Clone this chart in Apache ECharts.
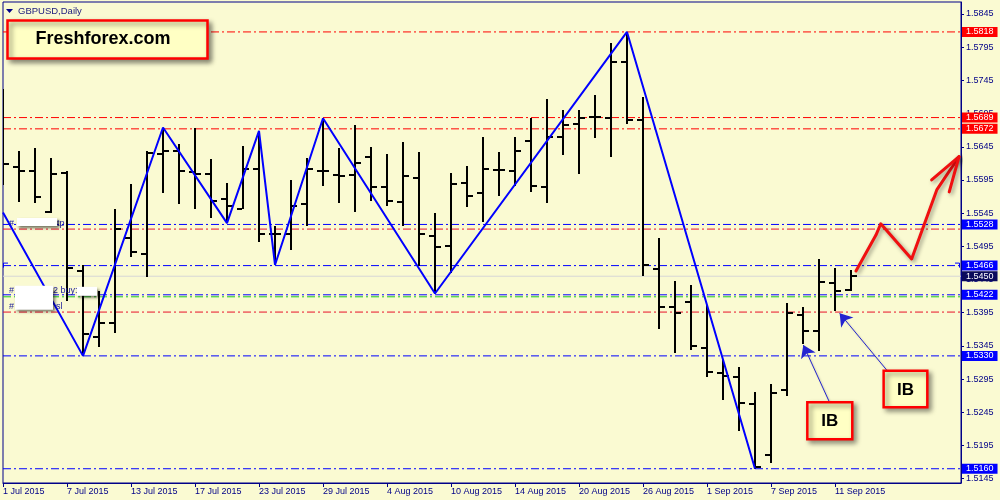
<!DOCTYPE html>
<html><head><meta charset="utf-8">
<script src="https://cdn.jsdelivr.net/npm/echarts@6/dist/echarts.min.js"></script>
<style>html,body{margin:0;padding:0;background:#FAFAD2}#c{width:1000px;height:500px}</style>
</head><body><div id="c"></div>
<script>
// ---- data ----
const barDates = ['2015-07-01','2015-07-02','2015-07-03','2015-07-06','2015-07-07','2015-07-08','2015-07-09','2015-07-10','2015-07-13','2015-07-14','2015-07-15','2015-07-16','2015-07-17','2015-07-20','2015-07-21','2015-07-22','2015-07-23','2015-07-24','2015-07-27','2015-07-28','2015-07-29','2015-07-30','2015-07-31','2015-08-03','2015-08-04','2015-08-05','2015-08-06','2015-08-07','2015-08-10','2015-08-11','2015-08-12','2015-08-13','2015-08-14','2015-08-17','2015-08-18','2015-08-19','2015-08-20','2015-08-21','2015-08-24','2015-08-25','2015-08-26','2015-08-27','2015-08-28','2015-08-31','2015-09-01','2015-09-02','2015-09-03','2015-09-04','2015-09-07','2015-09-08','2015-09-09','2015-09-10','2015-09-11','2015-09-14'];
const openP  = [1.5645,1.5615,1.5609,1.5546,1.5606,1.5458,1.5359,1.5380,1.5508,1.5484,1.5634,1.5639,1.5607,1.5604,1.5566,1.5552,1.5611,1.5514,1.5513,1.5559,1.5608,1.5603,1.5603,1.5630,1.5585,1.5562,1.5598,1.5510,1.5496,1.5591,1.5576,1.5610,1.5609,1.5654,1.5585,1.5659,1.5679,1.5690,1.5689,1.5773,1.5686,1.5461,1.5403,1.5411,1.5342,1.5304,1.5298,1.5257,1.5180,1.5278,1.5392,1.5367,1.5440,1.5429];
const highP  = [1.5732,1.5639,1.5643,1.5628,1.5609,1.5467,1.5427,1.5551,1.5589,1.5639,1.5674,1.5649,1.5673,1.5627,1.5590,1.5646,1.5669,1.5526,1.5595,1.5628,1.5688,1.5643,1.5678,1.5644,1.5634,1.5652,1.5637,1.5545,1.5605,1.5616,1.5659,1.5637,1.5659,1.5689,1.5717,1.5700,1.5700,1.5723,1.5802,1.5818,1.5720,1.5507,1.5443,1.5437,1.5407,1.5324,1.5314,1.5276,1.5288,1.5410,1.5403,1.5476,1.5462,1.5459];
const lowP   = [1.5587,1.5562,1.5560,1.5545,1.5412,1.5330,1.5343,1.5364,1.5479,1.5449,1.5576,1.5559,1.5552,1.5537,1.5530,1.5551,1.5501,1.5467,1.5489,1.5526,1.5586,1.5561,1.5547,1.5564,1.5556,1.5525,1.5466,1.5424,1.5455,1.5554,1.5532,1.5571,1.5586,1.5577,1.5561,1.5633,1.5604,1.5658,1.5629,1.5679,1.5450,1.5370,1.5334,1.5339,1.5298,1.5263,1.5217,1.5160,1.5169,1.5269,1.5348,1.5338,1.5398,1.5428];
const closeP = [1.5619,1.5609,1.5570,1.5604,1.5462,1.5363,1.5379,1.5521,1.5487,1.5635,1.5638,1.5609,1.5604,1.5564,1.5556,1.5611,1.5513,1.5514,1.5556,1.5611,1.5608,1.5601,1.5621,1.5585,1.5564,1.5601,1.5513,1.5494,1.5589,1.5571,1.5611,1.5610,1.5639,1.5586,1.5659,1.5678,1.5688,1.5690,1.5773,1.5686,1.5467,1.5403,1.5394,1.5345,1.5305,1.5299,1.5259,1.5163,1.5274,1.5395,1.5368,1.5442,1.5428,1.5450];

const xTickIdx    = [0,4,8,12,16,20,24,28,32,36,40,44,48,52];
const xTickLabels = ['1 Jul 2015','7 Jul 2015','13 Jul 2015','17 Jul 2015','23 Jul 2015','29 Jul 2015','4 Aug 2015','10 Aug 2015','14 Aug 2015','20 Aug 2015','26 Aug 2015','1 Sep 2015','7 Sep 2015','11 Sep 2015'];
const yTicks = [1.5145,1.5195,1.5245,1.5295,1.5345,1.5395,1.5445,1.5495,1.5545,1.5595,1.5645,1.5695,1.5745,1.5795,1.5845];

const zigzagIdx   = [0,5,10,14,16,17,20,27,39,47];
const zigzagPrice = [1.5546,1.5330,1.5674,1.5530,1.5669,1.5467,1.5688,1.5424,1.5818,1.5160];

const levelPrices = [1.5818,1.5689,1.5672,1.5528,1.5521,1.5466,1.5450,1.5422,1.5419,1.5396,1.5330,1.5160];
const levelKinds  = ['res','res','res','sr','tp','sr','bid','sr','entry','sl','sr','sr'];
const levelTagged = [true,true,true,true,false,true,true,true,false,false,true,true];

// hand-drawn forecast arrow (bar index, price)
const forecastPath = [[53.31,1.5458],[54.56,1.5512],[54.86,1.5529],[56.79,1.5476],[58.36,1.5580],[59.75,1.5630]];
const forecastHeadL = [[58.04,1.5595],[59.75,1.5630]];
const forecastHeadR = [[59.14,1.5577],[59.75,1.5630]];
// "IB" callouts: box corners and arrows (bar index, price)
const ibBoxes  = [[50.27,1.52601,53.08,1.52044],[55.04,1.53077,57.77,1.52526]];
const ibArrows = [[51.64,1.52610,50.02,1.53464],[55.23,1.53087,52.29,1.53941]];

// ---- chart ----
const NAVY = '#000088';
const FONT = '"Liberation Sans", Arial, sans-serif';
const kindColor = {res:'#ff0000', tp:'#e8102a', sl:'#e8102a', sr:'#0000ff', entry:'#1ec81e', bid:'#d6d6d6'};
const tagColor  = {res:'#ff0000', sr:'#0000ff', bid:'#0a0a5c'};

const chart = echarts.init(document.getElementById('c'), null, {renderer:'canvas'});

// each level is drawn as its own flat line across the axis range, tag via endLabel
const levelSeries = levelPrices.map((p,i)=>{
  const k = levelKinds[i];
  return {
    type: 'line', silent: true, z: 1, symbol: 'none', clip: false,
    data: [[0, p], [59.875, p]],
    lineStyle: {color: kindColor[k], width: 1, type: k==='bid' ? 'solid' : [8,3,2,3]},
    endLabel: levelTagged[i] ? {
      show: true, distance: 1, formatter: p.toFixed(4),
      backgroundColor: tagColor[k], color: '#ffffff', padding: [1,4,0,4],
      fontSize: 9, lineHeight: 9, fontFamily: '"Liberation Sans", Arial, sans-serif'
    } : {show: false}
  };
});

const option = {
  animation: false,
  backgroundColor: '#FAFAD2',
  grid: {left: 3, right: 39, top: 2, bottom: 17, show: true, borderColor: NAVY, borderWidth: 1, backgroundColor: 'transparent'},
  xAxis: {
    type: 'value', min: 0, max: 59.875,
    axisLine: {show: true, onZero: false, lineStyle: {color: NAVY, width: 1}},
    axisTick: {show: true, length: 4, customValues: xTickIdx, lineStyle: {color: NAVY}},
    axisLabel: {customValues: xTickIdx, formatter: v => xTickLabels[xTickIdx.indexOf(Math.round(v))] || '',
      color: NAVY, fontSize: 9, fontFamily: FONT, align: 'left', margin: 4},
    splitLine: {show: false}
  },
  yAxis: {
    type: 'value', position: 'right', min: 1.513852, max: 1.586308,
    axisLine: {show: true, onZero: false, lineStyle: {color: NAVY, width: 1}},
    axisTick: {show: true, length: 3, customValues: yTicks, lineStyle: {color: NAVY}},
    axisLabel: {customValues: yTicks, formatter: v => v.toFixed(4), color: NAVY, fontSize: 9, fontFamily: FONT, margin: 5},
    splitLine: {show: false}
  },
  series: levelSeries.concat([
    {type: 'custom', clip: true, z: 3, silent: true,
     data: openP.map((o,i)=>[i, o, highP[i], lowP[i], closeP[i]]),
     encode: {x: 0, y: [1,2,3,4]},
     renderItem: (params, api) => {
       const x = api.value(0);
       const o = api.coord([x, api.value(1)]);
       const h = api.coord([x, api.value(2)]);
       const l = api.coord([x, api.value(3)]);
       const c = api.coord([x, api.value(4)]);
       const cx = Math.round(h[0]);
       const hy = Math.round(h[1]), ly = Math.round(l[1]);
       const fill = {fill: '#000000'};
       return {type: 'group', children: [
         {type: 'rect', shape: {x: cx-1, y: hy, width: 2, height: Math.max(ly-hy, 1)}, style: fill},
         {type: 'rect', shape: {x: cx-6, y: Math.round(o[1])-1, width: 5, height: 2}, style: fill},
         {type: 'rect', shape: {x: cx+1, y: Math.round(c[1])-1, width: 5, height: 2}, style: fill}
       ]};
     }},
    {type: 'line', z: 4, silent: true, symbol: 'none', clip: true,
     data: zigzagIdx.map((x,i)=>[x, zigzagPrice[i]]),
     lineStyle: {color: '#0000ff', width: 2}},
    {type: 'lines', coordinateSystem: 'cartesian2d', polyline: true, z: 6, silent: true,
     lineStyle: {color: '#f01010', width: 3, opacity: 1, cap: 'round', join: 'round',
       shadowBlur: 4, shadowColor: 'rgba(0,0,0,0.4)', shadowOffsetX: 2, shadowOffsetY: 2},
     data: [{coords: forecastPath}, {coords: forecastHeadL}, {coords: forecastHeadR}]},
    {type: 'lines', coordinateSystem: 'cartesian2d', z: 6, silent: true,
     symbol: ['none','arrow'], symbolSize: 12,
     lineStyle: {color: '#2424d0', width: 1, opacity: 1, shadowBlur: 2, shadowColor: 'rgba(0,0,0,0.25)', shadowOffsetX: 1, shadowOffsetY: 1},
     data: ibArrows.map(a => ({coords: [[a[0],a[1]],[a[2],a[3]]]}))}
  ])
};
chart.setOption(option);

// ---- annotations (anchored through the axes) ----
const px = (x, y) => chart.convertToPixel({gridIndex: 0}, [x, y]);
const TXT = '#1c1c9c';
const shadow = {shadowBlur: 5, shadowOffsetX: 3, shadowOffsetY: 3, shadowColor: 'rgba(0,0,0,0.45)'};
const g = [];
// title
g.push({type: 'polygon', shape: {points: [[6,9],[13,9],[9.5,13]]}, style: {fill: NAVY}, z: 20});
g.push({type: 'text', x: 18, y: 11, z: 20, style: {text: 'GBPUSD,Daily', fill: '#202080', font: '9.5px ' + FONT, verticalAlign: 'middle', textVerticalAlign: 'middle'}});
// Freshforex label
g.push({type: 'rect', z: 20, shape: {x: 7.5, y: 20.5, width: 200, height: 38}, style: Object.assign({fill: '#FFFFC4', stroke: '#ff0000', lineWidth: 2.5}, shadow)});
g.push({type: 'text', z: 21, x: 103, y: 39.5, style: {text: 'Freshforex.com', fill: '#000', font: 'bold 18px ' + FONT, align: 'center', textAlign: 'center', verticalAlign: 'middle', textVerticalAlign: 'middle'}});
// IB boxes
ibBoxes.forEach(b => {
  const p0 = px(b[0], b[1]), p1 = px(b[2], b[3]);
  g.push({type: 'rect', z: 20, shape: {x: p0[0], y: p0[1], width: p1[0]-p0[0], height: p1[1]-p0[1]}, style: Object.assign({fill: '#FFFFC4', stroke: '#ff0000', lineWidth: 2.5}, shadow)});
  g.push({type: 'text', z: 21, x: (p0[0]+p1[0])/2, y: (p0[1]+p1[1])/2 + 1, style: {text: 'IB', fill: '#000', font: 'bold 17px ' + FONT, align: 'center', textAlign: 'center', verticalAlign: 'middle', textVerticalAlign: 'middle'}});
});
// order labels on the left (text sits above its order line)
const yTp = px(0, levelPrices[4])[1], yEn = px(0, levelPrices[8])[1], ySl = px(0, levelPrices[9])[1];
const tfont = '9px ' + FONT;
const wbox = (x, y, w, h) => ({type: 'rect', z: 15, shape: {x, y, width: w, height: h}, style: {fill: '#ffffff', shadowBlur: 3, shadowOffsetX: 2, shadowOffsetY: 2, shadowColor: 'rgba(0,0,0,0.55)'}});
const ttext = (x, y, t) => ({type: 'text', z: 14, x, y, style: {text: t, fill: TXT, font: tfont, verticalAlign: 'middle', textVerticalAlign: 'middle'}});
g.push(ttext(9, yTp-6, '#'));
g.push(ttext(57, yTp-6, 'tp'));
g.push(wbox(17, yTp-11, 40, 8));
g.push(ttext(9, yEn-6, '#'));
g.push(ttext(53, yEn-6, '2 buy:'));
g.push(ttext(9, ySl-6, '#'));
g.push(ttext(56, ySl-6, 'sl'));
g.push(wbox(15, yEn-11, 38, 24));
g.push(wbox(77, yEn-10, 20, 9));
// small price-label brackets on the 1.5466 line
const yB = px(0, levelPrices[5])[1];
g.push({type: 'polyline', z: 14, shape: {points: [[3.5, yB+2], [3.5, yB-2.5], [8, yB-2.5]]}, style: {stroke: '#0000ff', lineWidth: 1, fill: null}});
g.push({type: 'polyline', z: 14, shape: {points: [[955, yB-2.5], [959.5, yB-2.5], [959.5, yB+2]]}, style: {stroke: '#0000ff', lineWidth: 1, fill: null}});
chart.setOption({graphic: g});
</script>
</body></html>
